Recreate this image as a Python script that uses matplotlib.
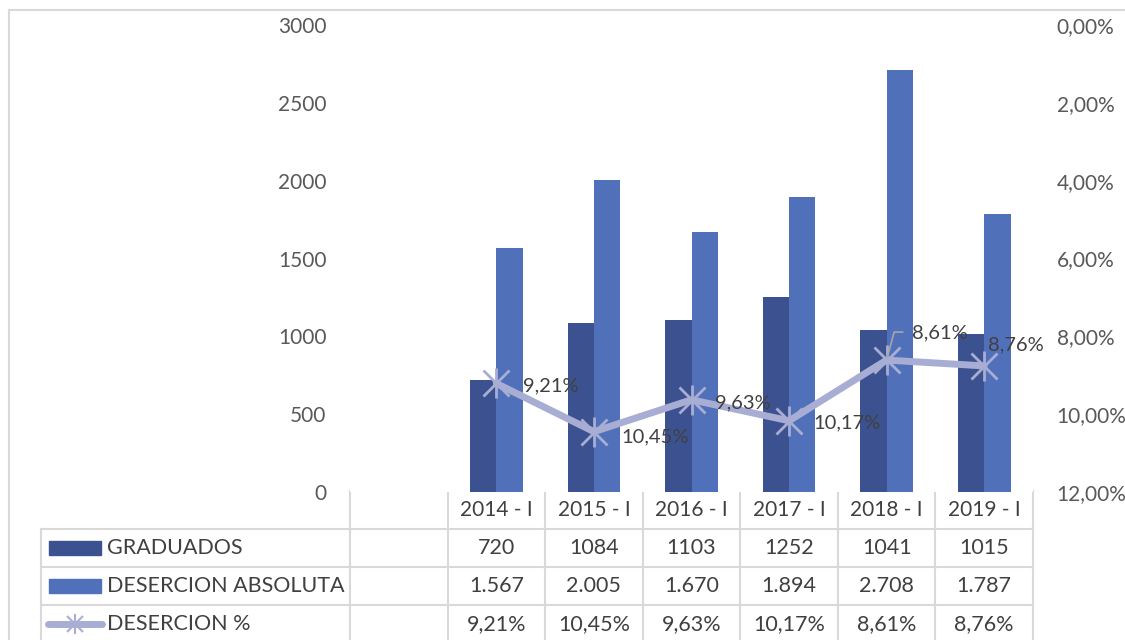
import matplotlib
matplotlib.use("Agg")
from matplotlib import pyplot as plt
from matplotlib.patches import Rectangle
import numpy as np

plt.rcParams['font.family'] = ['Lato', 'DejaVu Sans']

# data
periodos = ["", "2014 - I", "2015 - I", "2016 - I", "2017 - I", "2018 - I", "2019 - I"]
graduados = [np.nan, 720, 1084, 1103, 1252, 1041, 1015]
desercion_abs = [np.nan, 1567, 2005, 1670, 1894, 2708, 1787]
desercion_pct = [np.nan, 0.0921, 0.1045, 0.0963, 0.1017, 0.0861, 0.0876]
graduados_txt = ["", "720", "1084", "1103", "1252", "1041", "1015"]
desercion_abs_txt = ["", "1.567", "2.005", "1.670", "1.894", "2.708", "1.787"]
desercion_pct_txt = ["", "9,21%", "10,45%", "9,63%", "10,17%", "8,61%", "8,76%"]
series = ["GRADUADOS", "DESERCION ABSOLUTA", "DESERCION %"]

c_grad = "#3C5290"
c_des = "#5070BA"
c_line = "#A8AED3"
c_grid = "#D9D9D9"
c_txt = "#404040"
c_tick = "#595959"

W, H = 1125, 640
fig = plt.figure(figsize=(W / 100, H / 100), dpi=100)

# plot area in pixels
px0, px1 = 350, 1033
py_top, py_bot = 25, 492
ax = fig.add_axes([px0 / W, 1 - py_bot / H, (px1 - px0) / W, (py_bot - py_top) / H])

x = np.arange(len(periodos))
bw = 0.27
ax.bar(x - bw / 2, graduados, bw, color=c_grad)
ax.bar(x + bw / 2, desercion_abs, bw, color=c_des)
ax.set_xlim(-0.5, len(periodos) - 0.5)
ax.set_ylim(0, 3000)
ax.set_yticks(np.arange(0, 3001, 500))
ax.set_xticks([])
ax.tick_params(axis='y', length=0, pad=17, labelsize=15, labelcolor=c_tick)
for s in ax.spines.values():
    s.set_visible(False)

ax2 = ax.twinx()
ax2.plot(x, desercion_pct, color=c_line, lw=5, solid_capstyle='round')
ax2.plot(x, desercion_pct, ls='none', marker='x', ms=19, mew=2, mec=c_line)
ax2.plot(x, desercion_pct, ls='none', marker='|', ms=22, mew=2, mec=c_line)
ax2.set_ylim(0.12, 0)
pct_ticks = np.arange(0, 0.1201, 0.02)
ax2.set_yticks(pct_ticks)
ax2.set_yticklabels([("%.2f%%" % (v * 100)).replace(".", ",") for v in pct_ticks])
ax2.tick_params(axis='y', length=0, pad=17, labelsize=15, labelcolor=c_tick)
for s in ax2.spines.values():
    s.set_visible(False)

# data labels
offsets = {1: (27, -2), 2: (27, -5), 3: (24, -3), 4: (24, -2), 5: (25, 27), 6: (4, 21)}
for i, (dx, dy) in offsets.items():
    ax2.annotate(desercion_pct_txt[i], (x[i], desercion_pct[i]), xytext=(dx, dy),
                 textcoords='offset pixels', fontsize=14.5, color=c_txt,
                 ha='left', va='center')
# leader line for 2018
ax2.annotate("", (x[5], desercion_pct[5]), xytext=(19, 28), textcoords='offset pixels',
             arrowprops=dict(arrowstyle='-', color='#A6A6A6', lw=1.2,
                             connectionstyle='angle,angleA=0,angleB=75,rad=0'))

# overlay in pixel coords for table and frame
ov = fig.add_axes([0, 0, 1, 1], zorder=-1)
ov.set_xlim(0, W)
ov.set_ylim(H, 0)
ov.axis('off')

# outer frame
ov.plot([9, W], [10, 10], color=c_grid, lw=1.5)
ov.plot([9, 9], [10, H], color=c_grid, lw=1.5)

ncol = len(periodos)
colw = (px1 - px0) / ncol
rowh = 38
lab_x0 = 41
bounds = [px0 + i * colw for i in range(ncol + 1)]
rows_y = [py_bot - 1 + k * rowh for k in range(5)]

# horizontal lines
ov.plot([px0, px1], [rows_y[0], rows_y[0]], color=c_grid, lw=1.5)
for k in range(1, 5):
    ov.plot([lab_x0, px1], [rows_y[k], rows_y[k]], color=c_grid, lw=1.5)
# vertical lines
for b in bounds:
    ov.plot([b, b], [rows_y[0], rows_y[4]], color=c_grid, lw=1.5)
ov.plot([lab_x0, lab_x0], [rows_y[1], rows_y[4]], color=c_grid, lw=1.5)

# header
for i, p in enumerate(periodos):
    ov.text((bounds[i] + bounds[i + 1]) / 2, rows_y[0] + rowh / 2, p,
            ha='center', va='center', fontsize=15, color=c_txt)

rows = [graduados_txt, desercion_abs_txt, desercion_pct_txt]
for k, vals in enumerate(rows):
    yc = rows_y[k + 1] + rowh / 2
    for i, v in enumerate(vals):
        ov.text((bounds[i] + bounds[i + 1]) / 2, yc, v,
                ha='center', va='center', fontsize=15.5, color=c_txt)
    ov.text(107, yc, series[k], ha='left', va='center', fontsize=15.5, color=c_txt)

# legend keys
ov.add_patch(Rectangle((49, rows_y[1] + rowh / 2 - 7), 52, 14, color=c_grad))
ov.add_patch(Rectangle((49, rows_y[2] + rowh / 2 - 7), 52, 14, color=c_des))
yk = rows_y[3] + rowh / 2
ov.plot([48, 102], [yk, yk], color=c_line, lw=5, solid_capstyle='round')
ov.plot([75], [yk], marker='x', ms=12, mew=1.5, mec=c_line)
ov.plot([75], [yk], marker='|', ms=14, mew=1.5, mec=c_line)

fig.savefig("out.png", dpi=100)
